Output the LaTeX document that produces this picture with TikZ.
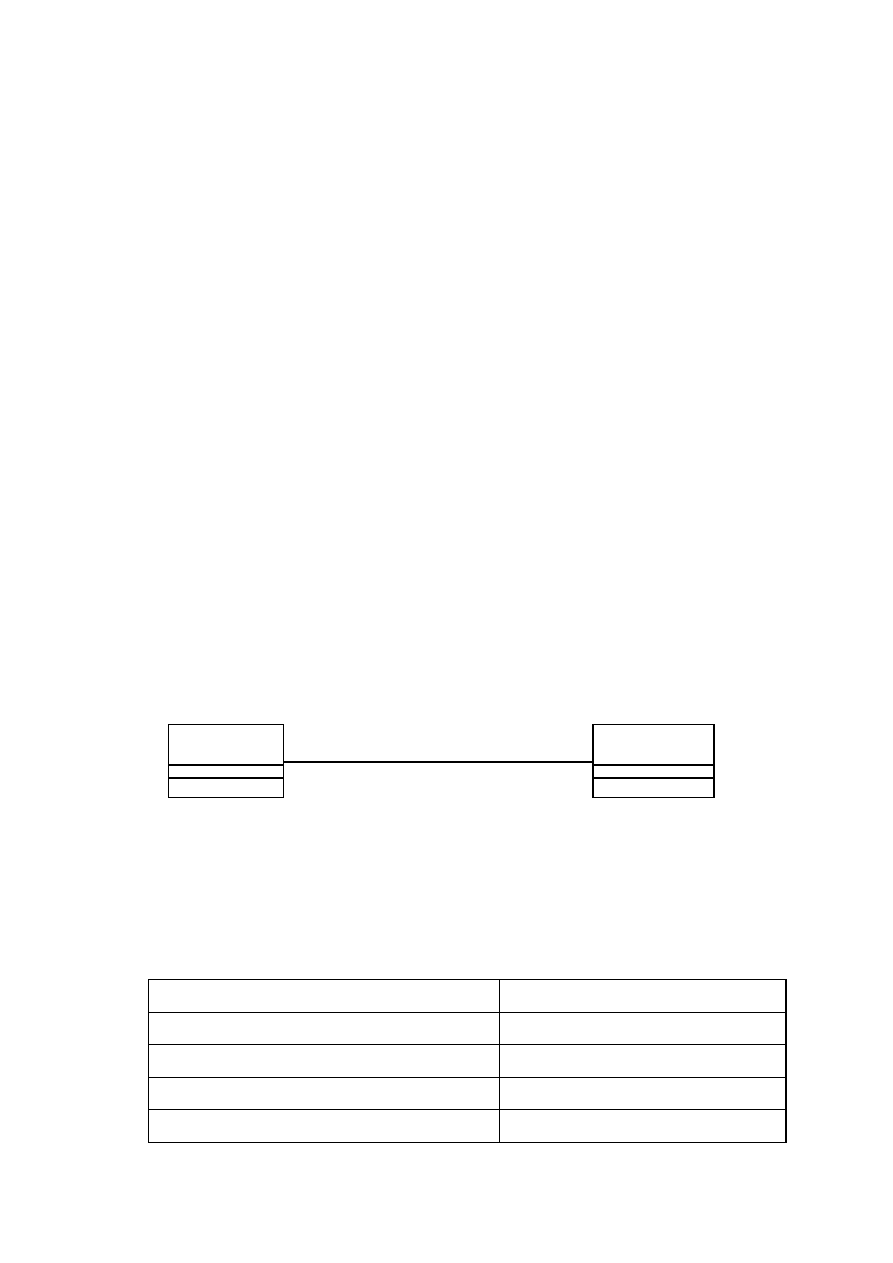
\documentclass[tikz,border=0pt]{standalone}
\begin{document}
\begin{tikzpicture}[x=0.6667pt,y=-0.6667pt,
  box/.style={draw, rectangle, inner sep=0pt, outer sep=0pt, line width=0.7pt},
  sep/.style={line width=1.4pt},
  assoc/.style={line width=1.4pt},
  cell/.style={draw, rectangle, inner sep=0pt, outer sep=0pt, line width=1pt}]
\useasboundingbox (0,0) rectangle (893,1263);
\node[box, minimum width=76.67pt, minimum height=27.13pt] (lname) at (225.8,744.65){};
\node[box, minimum width=76.67pt, minimum height=8.47pt] (lattr) at (225.8,771.35){};
\node[box, minimum width=76.67pt, minimum height=13.33pt] (lops) at (225.8,787.7){};
\draw[sep](lname.south west) -- (lname.south east);
\draw[sep](lattr.south west) -- (lattr.south east);
\node[box, minimum width=80.47pt, minimum height=27.13pt] (rname) at (653.65,744.65){};
\node[box, minimum width=80.47pt, minimum height=8.47pt] (rattr) at (653.65,771.35){};
\node[box, minimum width=80.47pt, minimum height=13.33pt] (rops) at (653.65,787.7){};
\draw[sep](rname.south west) -- (rname.south east);
\draw[sep](rattr.south west) -- (rattr.south east);
\draw[sep](rname.north west) -- (rops.south west);
\draw[assoc]([yshift=2.2pt]lname.south east) -- ([yshift=2.2pt]rname.south west);
\node[cell, minimum width=234pt, minimum height=22pt] (c11) at (323.8,995.8){};
\node[cell, minimum width=191.13pt, minimum height=22pt] (c12) at (642.65,995.8){};
\node[cell, minimum width=234pt, minimum height=21.33pt] (c21) at (323.8,1028.3){};
\node[cell, minimum width=191.13pt, minimum height=21.33pt] (c22) at (642.65,1028.3){};
\node[cell, minimum width=234pt, minimum height=22pt] (c31) at (323.8,1060.8){};
\node[cell, minimum width=191.13pt, minimum height=22pt] (c32) at (642.65,1060.8){};
\node[cell, minimum width=234pt, minimum height=21.33pt] (c41) at (323.8,1093.3){};
\node[cell, minimum width=191.13pt, minimum height=21.33pt] (c42) at (642.65,1093.3){};
\node[cell, minimum width=234pt, minimum height=22pt] (c51) at (323.8,1125.8){};
\node[cell, minimum width=191.13pt, minimum height=22pt] (c52) at (642.65,1125.8){};
\end{tikzpicture}
\end{document}
